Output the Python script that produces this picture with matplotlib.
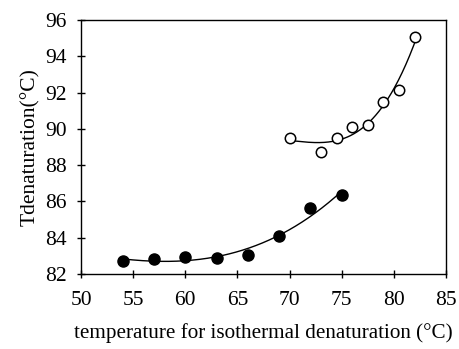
import numpy as np
import matplotlib
matplotlib.use("Agg")
import matplotlib.pyplot as plt

plt.rcParams['font.family'] = ['Liberation Serif', 'DejaVu Serif']

# filled circles
x_filled = [54, 57, 60, 63, 66, 69, 72, 75]
y_filled = [82.72, 82.83, 82.95, 82.86, 83.05, 84.1, 85.66, 86.34]

# open circles
x_open = [70, 73, 74.5, 76, 77.5, 79, 80.5, 82]
y_open = [89.48, 88.74, 89.51, 90.12, 90.21, 91.48, 92.14, 95.05]

x_ticks = [50, 55, 60, 65, 70, 75, 80, 85]
y_ticks = [82, 84, 86, 88, 90, 92, 94, 96]

fig = plt.figure(figsize=(4.59, 3.49), dpi=100)
ax = fig.add_axes([81 / 459, 1 - 274 / 349, 365 / 459, 254 / 349])

# trend lines
cf = np.polyfit(x_filled, y_filled, 3)
xf = np.linspace(min(x_filled), max(x_filled), 200)
ax.plot(xf, np.polyval(cf, xf), color='black', lw=1)

co = np.polyfit(x_open, y_open, 3)
xo = np.linspace(min(x_open), max(x_open), 200)
ax.plot(xo, np.polyval(co, xo), color='black', lw=1)

ax.plot(x_filled, y_filled, 'o', color='black', ms=8, zorder=3)
ax.plot(x_open, y_open, 'o', mfc='white', mec='black', mew=1.1, ms=7.5, zorder=3)

ax.set_xlim(50, 85)
ax.set_ylim(82, 96)
ax.set_xticks(x_ticks)
ax.set_yticks(y_ticks)
ax.tick_params(direction='inout', length=6, width=1, labelsize=15.5)
ax.tick_params(axis='x', pad=9)
ax.tick_params(axis='y', pad=7)
for s in ax.spines.values():
    s.set_linewidth(1)

ax.set_xlabel('temperature for isothermal denaturation (°C)', fontsize=15.2, labelpad=10)
ax.set_ylabel('Tdenaturation(°C)', fontsize=15.5, labelpad=4)

fig.savefig('out.png', dpi=100)
